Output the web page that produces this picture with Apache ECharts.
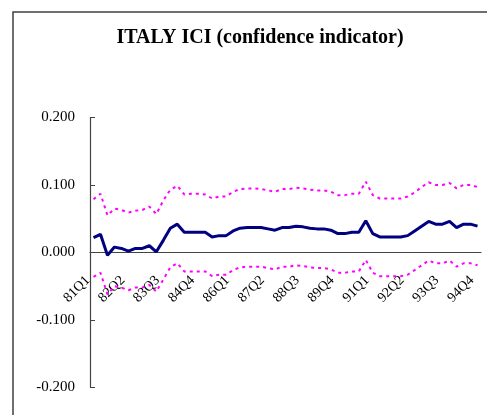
<!DOCTYPE html>
<html>
<head>
<meta charset="utf-8">
<script src="https://cdn.jsdelivr.net/npm/echarts@6/dist/echarts.min.js"></script>
<style>
    html, body { margin: 0; padding: 0; background: #fff; }
    #main { width: 487px; height: 415px; }
</style>
</head>
<body>
<div id="main"></div>
<script>
// quarters 81Q1 .. 94Q4
var quarters = [
    "81Q1", "81Q2", "81Q3", "81Q4", "82Q1", "82Q2", "82Q3", "82Q4",
    "83Q1", "83Q2", "83Q3", "83Q4", "84Q1", "84Q2", "84Q3", "84Q4",
    "85Q1", "85Q2", "85Q3", "85Q4", "86Q1", "86Q2", "86Q3", "86Q4",
    "87Q1", "87Q2", "87Q3", "87Q4", "88Q1", "88Q2", "88Q3", "88Q4",
    "89Q1", "89Q2", "89Q3", "89Q4", "90Q1", "90Q2", "90Q3", "90Q4",
    "91Q1", "91Q2", "91Q3", "91Q4", "92Q1", "92Q2", "92Q3", "92Q4",
    "93Q1", "93Q2", "93Q3", "93Q4", "94Q1", "94Q2", "94Q3", "94Q4"
];
// indicator
var ici = [
    0.022, 0.027, -0.004, 0.008, 0.006, 0.002, 0.006, 0.006,
    0.010, 0.001, 0.018, 0.036, 0.042, 0.030, 0.030, 0.030,
    0.030, 0.023, 0.025, 0.025, 0.032, 0.036, 0.037, 0.037,
    0.037, 0.035, 0.033, 0.037, 0.037, 0.039, 0.038, 0.036,
    0.035, 0.035, 0.033, 0.028, 0.028, 0.030, 0.030, 0.047,
    0.028, 0.023, 0.023, 0.023, 0.023, 0.025, 0.032, 0.039,
    0.046, 0.042, 0.042, 0.046, 0.037, 0.042, 0.042, 0.039
];
// upper band
var upper = [
    0.079, 0.087, 0.055, 0.065, 0.063, 0.059, 0.062, 0.063,
    0.068, 0.057, 0.077, 0.093, 0.099, 0.086, 0.087, 0.087,
    0.086, 0.080, 0.083, 0.083, 0.090, 0.094, 0.095, 0.095,
    0.094, 0.092, 0.090, 0.094, 0.094, 0.096, 0.095, 0.093,
    0.092, 0.092, 0.090, 0.085, 0.085, 0.087, 0.087, 0.105,
    0.085, 0.080, 0.080, 0.080, 0.080, 0.083, 0.089, 0.097,
    0.104, 0.100, 0.100, 0.103, 0.095, 0.100, 0.100, 0.097
];
// lower band
var lower = [
    -0.036, -0.030, -0.062, -0.050, -0.052, -0.056, -0.052, -0.052,
    -0.048, -0.058, -0.040, -0.022, -0.016, -0.028, -0.028, -0.028,
    -0.028, -0.035, -0.033, -0.033, -0.026, -0.022, -0.021, -0.021,
    -0.021, -0.023, -0.025, -0.021, -0.021, -0.019, -0.020, -0.022,
    -0.023, -0.023, -0.025, -0.030, -0.030, -0.028, -0.028, -0.011,
    -0.030, -0.035, -0.035, -0.035, -0.035, -0.033, -0.026, -0.019,
    -0.012, -0.016, -0.016, -0.012, -0.021, -0.016, -0.016, -0.019
];

var font = "Liberation Serif";
var chart = echarts.init(document.getElementById("main"));

chart.setOption({
    animation: false,
    backgroundColor: "#fff",
    title: {
        text: "ITALY ICI (confidence indicator)",
        left: 255,
        top: 23,
        textAlign: "center",
        textStyle: {
            fontFamily: font,
            fontWeight: "bold",
            fontSize: 20,
            color: "#000"
        }
    },
    graphic: [{
        // outer frame
        type: "rect",
        shape: { x: 13, y: 12, width: 520, height: 430 },
        style: { fill: "none", stroke: "#404040", lineWidth: 1.5 },
        silent: true
    }],
    grid: {
        left: 90,
        right: 6,
        top: 117.5,
        height: 270,
        outerBoundsMode: "none"
    },
    xAxis: {
        type: "category",
        data: quarters,
        boundaryGap: true,
        position: "bottom",
        offset: -135, // sits on the zero line
        axisLine: { onZero: false, lineStyle: { color: "#444", width: 1.2 } },
        axisTick: { inside: true, length: 5, interval: 3, lineStyle: { color: "#444" } },
        axisLabel: {
            interval: 4,
            rotate: 45,
            margin: 20,
            padding: [0, 8, 0, 0],
            fontFamily: font,
            fontSize: 14,
            color: "#000"
        },
        splitLine: { show: false }
    },
    yAxis: {
        type: "value",
        min: -0.2,
        max: 0.2,
        interval: 0.1,
        axisLine: { show: true, onZero: false, lineStyle: { color: "#444", width: 1.2 } },
        axisTick: { show: true, inside: true, length: 5, lineStyle: { color: "#444" } },
        axisLabel: {
            margin: 15,
            fontFamily: font,
            fontSize: 15,
            color: "#000",
            formatter: function (v) { return v.toFixed(3); }
        },
        splitLine: { show: false }
    },
    series: [{
        name: "upper",
        type: "line",
        data: upper,
        symbol: "none",
        lineStyle: { color: "#ff00ff", width: 2, type: [3, 4] }
    }, {
        name: "lower",
        type: "line",
        data: lower,
        symbol: "none",
        lineStyle: { color: "#ff00ff", width: 2, type: [3, 4] }
    }, {
        name: "ICI",
        type: "line",
        data: ici,
        symbol: "none",
        lineStyle: { color: "#000080", width: 3 }
    }]
});
</script>
</body>
</html>
